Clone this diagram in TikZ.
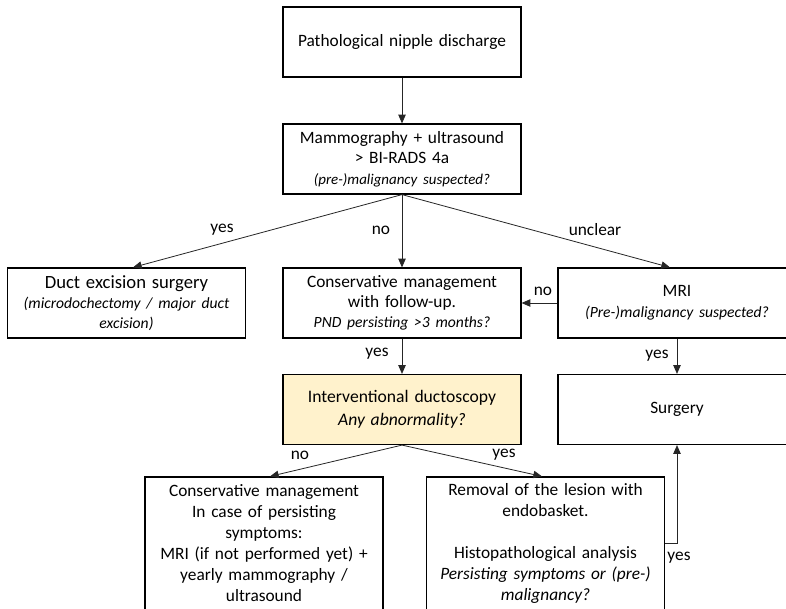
\documentclass[tikz,border=0pt]{standalone}
\usepackage{fontspec}
\setmainfont{Carlito}
\usetikzlibrary{arrows.meta,calc}
\definecolor{boxfill}{RGB}{255,242,204}
\tikzset{
  box/.style={draw=black, line width=0.9pt, minimum width=178.5pt, minimum height=52.5pt,
    inner sep=1pt, align=center, text width=176pt,
    font=\fontsize{13}{15.5}\selectfont},
  arr/.style={draw=black!85, line width=0.6pt, -{Triangle[length=6.5pt,width=5.5pt]}},
  lbl/.style={font=\fontsize{13}{15}\selectfont, inner sep=0pt},
}
\newcommand{\subtext}{\fontsize{11.7}{15}\selectfont\itshape}
\begin{document}
\begin{tikzpicture}[x=0.75pt, y=-0.75pt]
\useasboundingbox (0,0) rectangle (786,609);
\clip (0,0) rectangle (786,609);
\fill[white] (0,0) rectangle (786,609);

% decision boxes
\node[box] (b1) at (402,42) {Pathological nipple discharge};
\node[box, font=\fontsize{13}{15.5}\selectfont] (b2) at (402,159) {Mammography + ultrasound\\ > BI-RADS 4a\\ {\fontsize{11.2}{14}\selectfont\itshape (pre-)malignancy suspected?}};
\node[box, font=\fontsize{13}{15}\selectfont] (duct) at (126.5,303) {{\fontsize{14}{15}\selectfont Duct excision surgery}\\ {\subtext (microdochectomy / major duct}\\ {\subtext excision)}};
\node[box, font=\fontsize{13}{15}\selectfont] (cons) at (402,303) {Conservative management\\ with follow-up.\\ {\subtext PND persisting >3 months?}};
\node[box] (mri) at (677,303) {MRI\\ {\subtext (Pre-)malignancy suspected?}};
\node[box, fill=boxfill, font=\fontsize{13.2}{17.25}\selectfont] (duc) at (402,409.5) {Interventional ductoscopy\\ \itshape Any abnormality?};
\node[box] (surg) at (677,409.5) {Surgery};
\node[box, minimum height=99.75pt, font=\fontsize{13}{15.75}\selectfont] (consm) at (264,543.5) {Conservative management\\ In case of persisting\\ symptoms:\\ MRI (if not performed yet) +\\ yearly mammography /\\ ultrasound};
\node[box, minimum height=99.75pt, font=\fontsize{13}{15.75}\selectfont] (remov) at (545.5,543.5) {Removal of the lesion with\\ endobasket.\\[15.75pt] Histopathological analysis\\ \itshape Persisting symptoms or (pre-)\\ \itshape malignancy?};

% connectors
\draw[arr] (b1) -- (b2);
\draw[arr] (b2.south) -- ($(duct.north)+(6.5,0)$);
\draw[arr] (b2.south) -- (cons.north);
\draw[arr] (b2.south) -- ($(mri.north)+(-7,0)$);
\draw[arr] (mri.west) -- (cons.east);
\draw[arr] (cons) -- (duc);
\draw[arr] (mri) -- (surg);
\draw[arr] (duc.south) -- ($(consm.north)+(6,0)$);
\draw[arr] (duc.south) -- ($(remov.north)+(-3.5,0)$);
\draw[arr] (remov.east) -| (surg.south);

% branch labels
\node[lbl] (l1) at (222,230) {yes};
\node[lbl] (l2) at (381,230) {no};
\node[lbl] (l3) at (595,230) {unclear};
\node[lbl] (l4) at (543,291) {no};
\node[lbl] (l5) at (377,354) {yes};
\node[lbl] (l6) at (657,356) {yes};
\node[lbl] (l7) at (300,455) {no};
\node[lbl] (l8) at (504,455) {yes};
\node[lbl] (l9) at (679,558) {yes};
\end{tikzpicture}
\end{document}
